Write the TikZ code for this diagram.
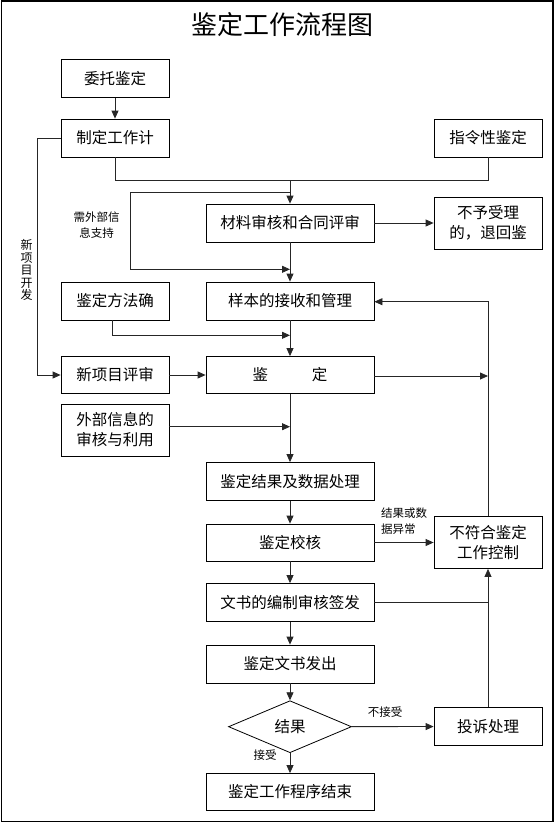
\documentclass[tikz,border=0pt]{standalone}
\usepackage{fontspec}
\setmainfont{Noto Sans CJK SC}
\usetikzlibrary{shapes.geometric,arrows.meta}
\tikzset{
  box/.style={draw=black, line width=0.8pt, minimum width=108pt, minimum height=38pt, inner sep=0pt, align=center, font=\fontsize{15.5}{20}\selectfont},
  wbox/.style={box, minimum width=168pt},
  tbox/.style={box, minimum height=52pt},
  dia/.style={draw=black, line width=0.8pt, diamond, aspect=2.37, minimum width=123pt, minimum height=52pt, inner sep=0pt, font=\fontsize{15.5}{20}\selectfont},
  lab/.style={font=\fontsize{11.5}{16}\selectfont, inner sep=0pt, align=center},
  conn/.style={line width=0.8pt, draw=black!85},
  arr/.style={conn, -{Triangle[length=8pt,width=7pt]}},
}
\begin{document}
\begin{tikzpicture}[x=1pt,y=-1pt]
\useasboundingbox (0,0) rectangle (555,825);
\draw[line width=1.2pt] (1.5,1) rectangle (553,821.5);
\node[font=\fontsize{26}{30}\selectfont, inner sep=0pt] (title) at (282,25) {鉴定工作流程图};
% boxes
\node[box] (wt) at (115,78.5) {委托鉴定};
\node[box] (zd) at (115,138) {制定工作计};
\node[box] (zl) at (488,138) {指令性鉴定};
\node[wbox] (cl) at (290,223) {材料审核和合同评审};
\node[tbox] (by) at (488,223) {不予受理\\的，退回鉴};
\node[wbox] (yb) at (290,301) {样本的接收和管理};
\node[box] (ff) at (115,301) {鉴定方法确};
\node[box, minimum height=37pt] (xx) at (115,375) {新项目评审};
\node[wbox, minimum height=37pt] (jd) at (290,375) {鉴\hspace{44pt}定};
\node[tbox] (wb) at (115,430) {外部信息的\\审核与利用};
\node[wbox] (jg) at (290,481.5) {鉴定结果及数据处理};
\node[wbox, minimum height=37pt] (jh) at (290,542.5) {鉴定校核};
\node[tbox] (bf) at (488,542.5) {不符合鉴定\\工作控制};
\node[wbox] (ws) at (290,602.5) {文书的编制审核签发};
\node[wbox] (fc) at (290,664) {鉴定文书发出};
\node[dia] (dm) at (290,726.7) {结果};
\node[box] (ts) at (488,726.5) {投诉处理};
\node[wbox, minimum height=37pt] (js) at (290,792) {鉴定工作程序结束};
% labels
\node[lab] (l1) at (96.5,225) {需外部信\\息支持};
\node[lab, font=\fontsize{12}{12.5}\selectfont] (l2) at (26.7,270) {新\\项\\目\\开\\发};
\node[lab, align=left, anchor=west] (l3) at (381,521.3) {结果或数\\据异常};
\node[lab] (l4) at (385,711.7) {不接受};
\node[lab] (l5) at (265,755) {接受};
% coordinates
\coordinate (j1) at (290,180);
\coordinate (lp1) at (290,192);
\coordinate (lp2) at (130.5,192);
\coordinate (lp3) at (130.5,269.3);
\coordinate (lp4) at (290,269.3);
\coordinate (ff1) at (112,335.3);
\coordinate (ff2) at (290,335.3);
\coordinate (lf) at (37,138);
\coordinate (rv1) at (488,376);
\coordinate (rv2) at (488,301.7);
\coordinate (wb1) at (290,426.7);
\coordinate (ws1) at (488,602.7);
% connectors
\draw[arr] (wt) -- (zd);
\draw[conn] (zd.south) -- (zd.south |- j1) -- (zl.south |- j1) -- (zl.south);
\draw[arr] (j1) -- (cl.north);
\draw[arr] (lp1) -- (lp2) -- (lp3) -- (lp4);
\draw[arr] (cl) -- (yb);
\draw[arr] (cl) -- (by);
\draw[arr] ([xshift=-3pt]ff.south) -- (ff1) -- (ff2);
\draw[arr] (yb) -- (jd);
\draw[arr] (zd.west) -- (lf) -- (lf |- xx.west) -- (xx.west);
\draw[arr] (xx) -- (jd);
\draw[arr] (jd.east |- rv1) -- (rv1);
\draw[arr] (jd) -- (jg);
\draw[arr] (wb.east |- wb1) -- (wb1);
\draw[arr] (jg) -- (jh);
\draw[arr] (jh) -- (bf);
\draw[arr] (jh) -- (ws);
\draw[conn] (ws.east |- ws1) -- (ws1);
\draw[arr] (ts) -- (bf);
\draw[arr] (bf.north) -- (rv2) -- (yb.east |- rv2);
\draw[arr] (ws) -- (fc);
\draw[arr] (fc) -- (dm);
\draw[arr] (dm) -- (ts);
\draw[arr] (dm) -- (js);
\end{tikzpicture}
\end{document}
